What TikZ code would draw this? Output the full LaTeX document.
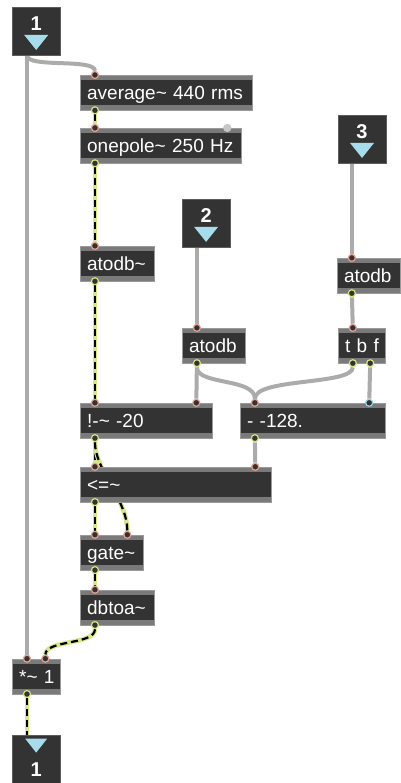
\documentclass[tikz,border=0pt]{standalone}
\usepackage{fontspec}
\setmainfont{Liberation Sans}
\definecolor{boxfill}{HTML}{333333}
\definecolor{boxstrip}{HTML}{7A7A7A}
\definecolor{boxedge}{HTML}{9A9A9A}
\definecolor{cordgray}{HTML}{ABABAB}
\definecolor{sigyellow}{HTML}{D6E68A}
\definecolor{inletred}{HTML}{E8A08E}
\definecolor{outletyellow}{HTML}{D9E27C}
\definecolor{inletblue}{HTML}{8FD3E6}
\definecolor{portblue}{HTML}{A6DCEC}
\pgfdeclarelayer{cords}
\pgfsetlayers{cords,main}
\tikzset{
    x=1pt, y=-1pt, % pixel units, y grows downward
    obj/.style={draw=boxedge, fill=boxfill, text=white, anchor=north west,
        minimum height=35pt, inner xsep=7pt, inner ysep=0pt,
        text height=13.5pt, text depth=0pt, text width=#1-14pt,
        font=\fontsize{19}{22}\selectfont,
        path picture={
            \fill[boxstrip] (path picture bounding box.north west) rectangle ([yshift=-5pt]path picture bounding box.north east);
            \fill[boxstrip] (path picture bounding box.south west) rectangle ([yshift=5pt]path picture bounding box.south east);
        }}, % an object box of the patch
    port/.style={draw=boxedge!60!black, fill=boxfill, anchor=north west,
        minimum size=48pt, inner sep=0pt}, % inlet and outlet boxes
    portnum/.style={text=white, font=\fontsize{20}{22}\selectfont\bfseries, inner sep=0pt}, % their numbers
    tri/.style={fill=portblue}, % the little arrow in them
    inlet/.style={circle, draw=inletred, fill=boxfill, line width=1.2pt,
        minimum size=7pt, inner sep=0pt}, % inlet dot
    outlet/.style={inlet, draw=outletyellow}, % outlet dot
    cord/.style={draw=cordgray, line width=4pt}, % control patch cord
    signal/.style={draw=sigyellow, line width=4.5pt,
        postaction={draw=black, line width=2.2pt, dash pattern=on 7pt off 4pt}}, % signal patch cord
}
\begin{document}
\begin{tikzpicture}
    \node[port] (in1) at (12,7) {};
    \node[portnum] (in1-n) at ([yshift=-17pt]in1.north) {1};
    \fill[tri] (in1.north) ++(-12,28) -- ++(24,0) -- ++(-12,15) -- cycle;
    \node[port] (in2) at (182,199) {};
    \node[portnum] (in2-n) at ([yshift=-17pt]in2.north) {2};
    \fill[tri] (in2.north) ++(-12,28) -- ++(24,0) -- ++(-12,15) -- cycle;
    \node[port] (in3) at (338,115) {};
    \node[portnum] (in3-n) at ([yshift=-17pt]in3.north) {3};
    \fill[tri] (in3.north) ++(-12,28) -- ++(24,0) -- ++(-12,15) -- cycle;
    \node[port] (out1) at (12,735) {};
    \node[portnum] (out1-n) at ([yshift=-35pt]out1.north) {1};
    \fill[tri] (out1.north) ++(-11,4) -- ++(22,0) -- ++(-11,14) -- cycle;

    \node[obj=172pt] (avg) at (80,75) {average\textasciitilde{} 440 rms};
    \node[obj=161pt] (pole) at (80,128) {onepole\textasciitilde{} 250 Hz};
    \node[obj=74pt] (atA) at (80,246) {atodb\textasciitilde};
    \node[obj=63pt] (atM) at (182,328) {atodb};
    \node[obj=63pt] (atR) at (337,258) {atodb};
    \node[obj=47pt] (tbf) at (338,328) {\mbox{t b f}};
    \node[obj=132pt] (notm) at (80,403) {!-\textasciitilde{} -20};
    \node[obj=145pt] (sub) at (240,403) {- -128.};
    \node[obj=191pt] (lte) at (80,467) {<=\textasciitilde};
    \node[obj=63pt] (gate) at (80,535) {gate\textasciitilde};
    \node[obj=74pt] (dbtoa) at (80,590) {dbtoa\textasciitilde};
    \node[obj=48pt] (mul) at (12,659) {\mbox{*\textasciitilde{} 1}};

    \foreach \b in {avg,pole,atA,atM,atR,tbf,notm,sub,lte,gate,dbtoa,mul} {
        \node[inlet] (\b-i) at ([xshift=15pt]\b.north west) {};
        \node[outlet] (\b-o) at ([xshift=15pt]\b.south west) {};
    }
    \node[inlet, draw=gray!45, fill=gray!45] (pole-i2) at ([xshift=-14pt]pole.north east) {};
    \node[inlet] (notm-i2) at ([xshift=-16pt]notm.north east) {};
    \node[inlet, draw=inletblue] (sub-i2) at ([xshift=-16pt]sub.north east) {};
    \node[inlet] (lte-i2) at ([xshift=-16pt]lte.north east) {};
    \node[inlet] (gate-i2) at ([xshift=-16pt]gate.north east) {};
    \node[inlet] (mul-i2) at ([xshift=-15pt]mul.north east) {};
    \node[outlet] (tbf-o2) at ([xshift=-15pt]tbf.south east) {};
    \coordinate (in1-o) at ([xshift=15pt]in1.south west);
    \coordinate (in2-o) at ([xshift=15pt]in2.south west);
    \coordinate (in3-o) at ([xshift=14pt]in3.south west);
    \coordinate (out1-i) at ([xshift=15pt]out1.north west);

    \begin{pgfonlayer}{cords}
        \useasboundingbox[fill=white] (0,0) rectangle (392,783);
        \draw[cord] (in1-o) -- (mul-i);
        \draw[cord] (in1-o) .. controls +(0,13) and +(0,-17) .. (avg-i);
        \draw[cord] (in2-o) -- (atM-i);
        \draw[cord] (in3-o) -- (atR-i);
        \draw[cord] (atR-o) -- (tbf-i);
        \draw[cord] (atM-o) -- (notm-i2);
        \draw[cord] (atM-o) .. controls +(0,22) and +(0,-25) .. (sub-i);
        \draw[cord] (tbf-o) .. controls +(0,22) and +(0,-25) .. (sub-i);
        \draw[cord] (tbf-o2) -- (sub-i2);
        \draw[cord] (sub-o) -- (lte-i2);
        \draw[signal] (avg-o) -- (pole-i);
        \draw[signal] (pole-o) -- (atA-i);
        \draw[signal] (atA-o) -- (notm-i);
        \draw[signal] (notm-o) -- (lte-i);
        \draw[signal] (notm-o) .. controls +(0,32) and +(0,-35) .. (gate-i2);
        \draw[signal] (lte-o) -- (gate-i);
        \draw[signal] (gate-o) -- (dbtoa-i);
        \draw[signal] (dbtoa-o) .. controls +(0,20) and +(0,-19) .. (mul-i2);
        \draw[signal] (mul-o) -- (out1-i);
    \end{pgfonlayer}
\end{tikzpicture}
\end{document}
